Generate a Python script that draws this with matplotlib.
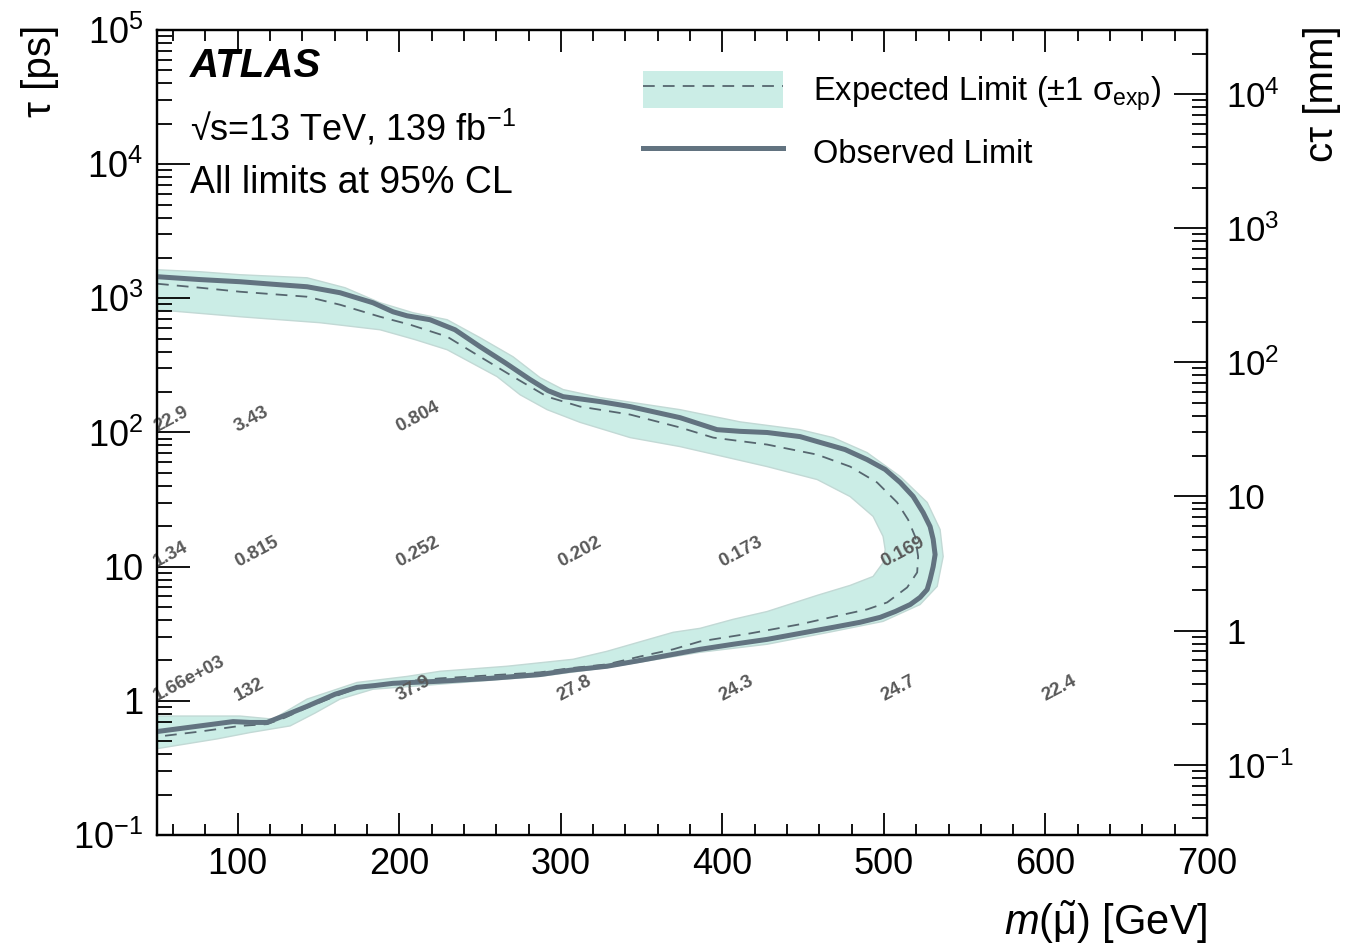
# ATLAS-style lifetime vs. smuon mass exclusion plot
import numpy as np
import matplotlib
matplotlib.use('Agg')
import matplotlib.pyplot as plt
from matplotlib.ticker import FixedLocator, FuncFormatter, MultipleLocator, NullFormatter
from matplotlib.lines import Line2D
from matplotlib.patches import Patch
from matplotlib.legend_handler import HandlerTuple

plt.rcParams['font.family'] = ['Liberation Sans', 'DejaVu Sans']
plt.rcParams['mathtext.fontset'] = 'custom'
plt.rcParams['mathtext.rm'] = 'Liberation Sans'
plt.rcParams['mathtext.it'] = 'Liberation Sans:italic'
plt.rcParams['mathtext.bf'] = 'Liberation Sans:bold'

# speed of light in mm/ps (for the c*tau axis)
c_mm_per_ps = 0.299792458

# observed limit contour (mass in GeV, tau in ps), top branch -> tip -> bottom branch
obs_mass = [50, 76.6, 101.4, 126.2, 142.9, 163.3, 183.7, 196.1, 204.8, 219.0, 234.5, 250.0,
            265.5, 281.0, 292.1, 301.4, 324.3, 342.9, 373.8, 396.7, 411.0, 427.7, 448.1,
            458.7, 476.0, 489.6, 500.8, 510.1, 518.1, 524.3, 528.6, 530.5, 531.7, 530.5,
            528.6, 526.8, 522.4, 516.3, 507.0, 497.7, 485.3, 468.6, 427.7, 406.7, 386.2,
            369.5, 349.1, 328.6, 305.7, 287.2, 256.2, 225.2, 196.1, 185.0, 173.8, 160.2,
            142.9, 129.3, 118.1, 107.6, 97.1, 76.6, 50]
obs_tau = [1450, 1380, 1330, 1262, 1220, 1101, 927, 794, 741, 693, 583, 436,
           331, 248, 205, 185, 170, 156, 129, 105, 102, 100, 93.2,
           85.6, 74.6, 62.8, 53.0, 42.4, 33.4, 25.3, 19.9, 16.0, 12.3, 10.0,
           8.03, 6.76, 5.90, 5.22, 4.63, 4.19, 3.85, 3.53, 2.87, 2.64, 2.42,
           2.22, 2.00, 1.81, 1.69, 1.57, 1.47, 1.40, 1.35, 1.30, 1.26, 1.12,
           0.91, 0.78, 0.69, 0.69, 0.70, 0.65, 0.59]

# expected limit contour
exp_mass = [50, 76.6, 101.4, 142.9, 163.3, 188.1, 206.7, 229.6, 250.0, 270.4, 291.5, 311.9,
            342.9, 373.8, 394.3, 427.7, 458.7, 479.1, 495.8, 508.2, 515.0, 519.3, 521.2,
            520.6, 514.4, 502.0, 489.6, 469.8, 448.1, 417.2, 386.2, 369.5, 349.1, 328.6,
            305.7, 287.2, 225.2, 196.1, 173.8, 160.2, 142.9, 129.3, 118.1, 101.4, 76.6, 50]
exp_tau = [1285, 1200, 1120, 1028, 896, 729, 636, 518, 367, 261, 185, 156,
           136, 109, 91.6, 81.3, 68.4, 55.7, 42.4, 30.1, 22.4, 16.8, 11.9,
           9.06, 7.0, 5.41, 4.80, 4.26, 3.72, 3.18, 2.77, 2.42, 2.14, 1.87,
           1.75, 1.63, 1.47, 1.37, 1.24, 1.08, 0.89, 0.75, 0.67, 0.65, 0.59, 0.54]

# +-1 sigma band: outer edge and inner edge
band_out_mass = [50, 76.6, 101.4, 142.9, 166.4, 188.1, 208.5, 229.6, 250.0, 270.4, 287.2, 301.4,
                 324.3, 373.8, 411.0, 448.1, 468.6, 489.6, 510.1, 526.8, 534.8, 536.7, 533.0,
                 522.4, 499.5, 468.6, 427.7, 386.2, 328.6, 287.2, 225.2, 183.7, 163.3, 147.8,
                 132.4, 107.6, 87.2, 50]
band_out_tau = [1633, 1578, 1500, 1423, 1200, 927, 781, 693, 509, 367, 256, 209,
                182, 148, 120, 105, 91.6, 70.8, 47.0, 30.1, 18.9, 11.9, 7.13,
                5.22, 3.91, 3.29, 2.64, 2.30, 1.77, 1.52, 1.33, 1.22, 1.03, 0.81,
                0.65, 0.58, 0.52, 0.44]
band_in_mass = [50, 101.4, 150.9, 188.1, 209.8, 229.6, 260.5, 274.8, 291.5, 311.9, 342.9, 373.8,
                427.7, 458.7, 479.1, 493.3, 499.5, 500.8, 499.5, 493.3, 479.1, 458.7, 427.7,
                406.7, 386.2, 369.5, 328.6, 307.6, 266.7, 225.2, 204.8, 173.8, 142.9, 121.8,
                101.4, 50]
band_in_tau = [822, 729, 658, 583, 492, 414, 261, 191, 148, 119, 91.6, 78.5,
               55.7, 44.6, 33.3, 23.7, 16.8, 13.4, 10.7, 8.45, 7.25, 6.11, 4.63,
               4.05, 3.47, 3.24, 2.34, 2.04, 1.81, 1.66, 1.52, 1.37, 1.03, 0.73,
               0.77, 0.77]

# numbers printed on the signal grid
grid_mass = [50, 100, 200,
             50, 100, 200, 300, 400, 500,
             50, 100, 200, 300, 400, 500, 600]
grid_tau = [100, 100, 100,
            10, 10, 10, 10, 10, 10,
            1, 1, 1, 1, 1, 1, 1]
grid_text = ['22.9', '3.43', '0.804',
             '1.34', '0.815', '0.252', '0.202', '0.173', '0.169',
             '1.66e+03', '132', '37.9', '27.8', '24.3', '24.7', '22.4']

band_color = '#cbede6'
obs_color = '#627380'
exp_color = '#56666f'
dash_style = (0, (6.5, 4.5))

fig = plt.figure(figsize=(13.49, 9.47), dpi=100)
ax = fig.add_axes([0.1164, 0.1183, 0.7783, 0.8500])

# band, expected, observed
ax.fill(band_out_mass + band_in_mass[::-1], band_out_tau + band_in_tau[::-1],
        facecolor=band_color, edgecolor='#c2d9d5', lw=1.0, zorder=1)
ax.plot(exp_mass, exp_tau, ls=dash_style, color=exp_color, lw=1.3, zorder=2)
ax.plot(obs_mass, obs_tau, color=obs_color, lw=3.6, solid_joinstyle='round',
        solid_capstyle='butt', zorder=3)

for m, t, s in zip(grid_mass, grid_tau, grid_text):
    ax.text(m, t, s, rotation=28, rotation_mode='anchor', ha='left', va='baseline',
            fontsize=13.5, fontweight='bold', color='#595959', zorder=5)

ax.set_yscale('log')
ax.set_xlim(50, 700)
ax.set_ylim(0.1, 1e5)


def pow10_label(v, pos):
    e = int(round(np.log10(v)))
    if e == 0:
        return '1'
    if e == 1:
        return '10'
    return '$10^{%d}$' % e


ax.xaxis.set_major_locator(MultipleLocator(100))
ax.xaxis.set_minor_locator(MultipleLocator(20))
ax.yaxis.set_major_locator(FixedLocator([10.0 ** e for e in range(-1, 6)]))
ax.yaxis.set_minor_locator(FixedLocator([k * 10.0 ** e for e in range(-1, 5) for k in range(2, 10)]))
ax.yaxis.set_major_formatter(FuncFormatter(pow10_label))
ax.yaxis.set_minor_formatter(NullFormatter())

ax.tick_params(axis='x', which='major', direction='in', top=True, length=15.8, width=1.3,
               labelsize=26, pad=9)
ax.tick_params(axis='x', which='minor', direction='in', top=True, length=7.9, width=1.3)
ax.tick_params(axis='y', which='major', direction='in', right=False, length=23.8, width=1.3,
               labelsize=26, pad=10)
ax.tick_params(axis='y', which='minor', direction='in', right=False, length=10.8, width=1.3)
for sp in ax.spines.values():
    sp.set_linewidth(1.6)

# c*tau axis on the right
ax2 = ax.twinx()
ax2.set_yscale('log')
ax2.set_ylim(0.1 * c_mm_per_ps, 1e5 * c_mm_per_ps)
ax2.yaxis.set_major_locator(FixedLocator([10.0 ** e for e in range(-1, 5)]))
ax2.yaxis.set_minor_locator(FixedLocator([k * 10.0 ** e for e in range(-2, 5) for k in range(2, 10)]))
ax2.yaxis.set_major_formatter(FuncFormatter(pow10_label))
ax2.yaxis.set_minor_formatter(NullFormatter())
ax2.tick_params(axis='y', which='major', direction='in', length=23.8, width=1.3,
                labelsize=25, pad=14)
ax2.tick_params(axis='y', which='minor', direction='in', length=10.8, width=1.3)
for sp in ax2.spines.values():
    sp.set_linewidth(1.6)

# axis titles
fig.text(40 / 1349, 1 - 25 / 947, 'τ [ps]', rotation=90, ha='center', va='top', fontsize=29)
fig.text(1322 / 1349, 1 - 25 / 947, 'cτ [mm]', rotation=90, ha='center', va='top', fontsize=29)
fig.text(1207 / 1349, 1 - 922 / 947, r'$m(\tilde{\mathrm{\mu}})$ [GeV]', ha='right', va='center',
         fontsize=30)

# ATLAS labels
fig.text(190 / 1349, 1 - 66 / 947, 'ATLAS', fontsize=29, fontweight='bold', fontstyle='italic',
         ha='left', va='center')
fig.text(190 / 1349, 1 - 128 / 947, '√s=13 TeV, 139 fb$^{-1}$', fontsize=26,
         ha='left', va='center')
fig.text(190 / 1349, 1 - 183 / 947, 'All limits at 95% CL', fontsize=27, ha='left', va='center')

# legend
handles = [(Patch(facecolor=band_color, edgecolor='none'),
            Line2D([], [], ls=dash_style, color=exp_color, lw=1.3)),
           Line2D([], [], color=obs_color, lw=3.6)]
labels = [r'Expected Limit ($\pm$1 σ$_{\mathrm{exp}}$)', 'Observed Limit']
ax2.legend(handles, labels, handler_map={tuple: HandlerTuple(ndivide=1, pad=0)},
           loc='upper left', bbox_to_anchor=(643 / 1349, 1 - 71 / 947),
           bbox_transform=fig.transFigure, frameon=False, fontsize=23.5,
           handlelength=4.3, handleheight=1.38, handletextpad=0.92, labelspacing=0.62,
           borderpad=0, borderaxespad=0)

fig.savefig('out.png', dpi=100)
